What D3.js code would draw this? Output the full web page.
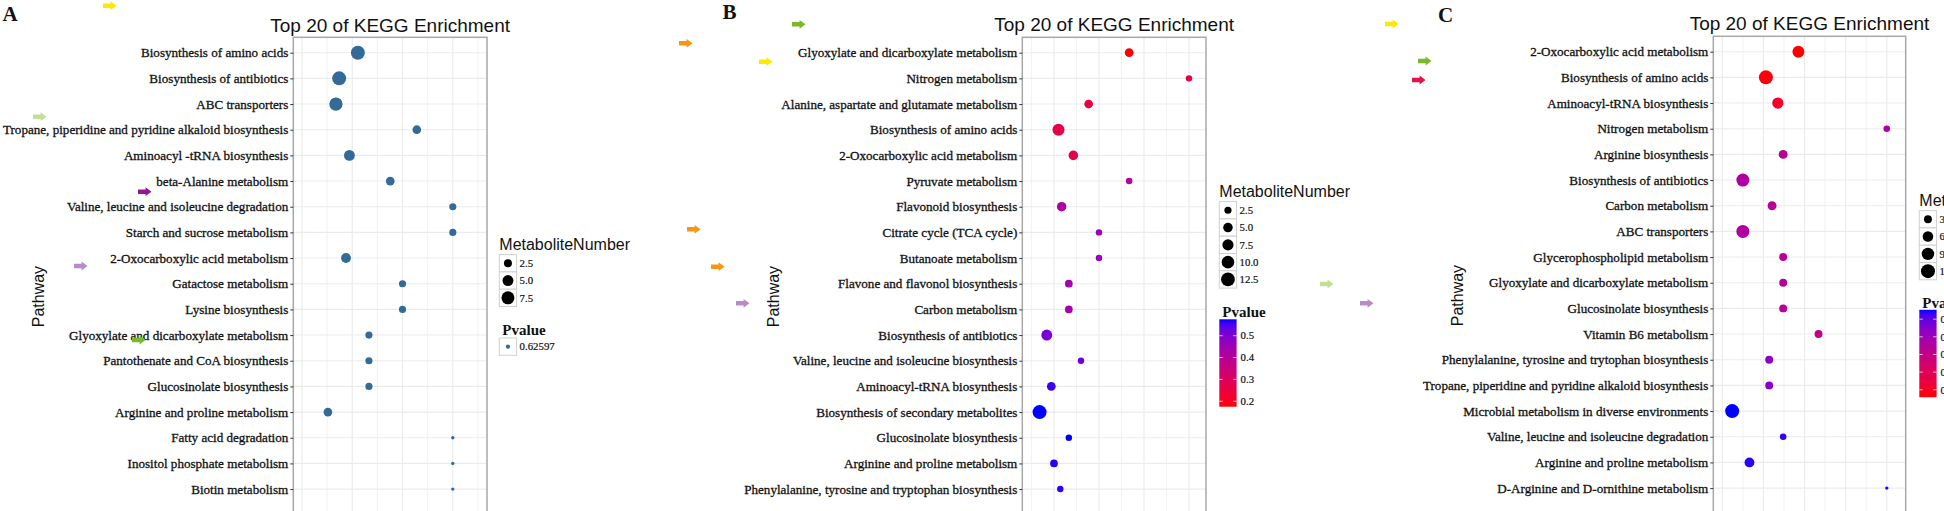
<!DOCTYPE html>
<html><head><meta charset="utf-8">
<script src="https://cdn.jsdelivr.net/npm/d3@7"></script>
<style>body{margin:0;background:#fff;} svg{display:block;}</style>
</head><body>
<svg id="c" width="1944" height="511"></svg>
<script>
// ---------------- DATA ----------------
// Panel A
const pathwaysA = ["Biosynthesis of amino acids","Biosynthesis of antibiotics","ABC transporters",
 "Tropane, piperidine and pyridine alkaloid biosynthesis","Aminoacyl -tRNA biosynthesis","beta-Alanine metabolism",
 "Valine, leucine and isoleucine degradation","Starch and sucrose metabolism","2-Oxocarboxylic acid metabolism",
 "Gatactose metabolism","Lysine biosynthesis","Glyoxylate and dicarboxylate metabolism",
 "Pantothenate and CoA biosynthesis","Glucosinolate biosynthesis","Arginine and proline metabolism",
 "Fatty acid degradation","Inositol phosphate metabolism","Biotin metabolism"];
const richA  = [0.528,0.435,0.419,0.821,0.486,0.689,1.0,1.0,0.469,0.75,0.75,0.583,0.583,0.583,0.379,1.0,1.0,1.0];
const countA = [9,9,8,3,5,3,2,2,4,2,2,2,2,2,3,1,1,1];
const pvalA  = [0.62597,0.62597,0.62597,0.62597,0.62597,0.62597,0.62597,0.62597,0.62597,0.62597,0.62597,0.62597,0.62597,0.62597,0.62597,0.62597,0.62597,0.62597];
const sizeLimitsA = [1, 9];
const sizeBreaksA = [2.5, 5.0, 7.5];
const sizeBreakLabelsA = ["2.5","5.0","7.5"];
const pvalLabelA = "0.62597";

// Panel B
const pathwaysB = ["Glyoxylate and dicarboxylate metabolism","Nitrogen metabolism","Alanine, aspartate and glutamate metabolism",
 "Biosynthesis of amino acids","2-Oxocarboxylic acid metabolism","Pyruvate metabolism","Flavonoid biosynthesis",
 "Citrate cycle (TCA cycle)","Butanoate metabolism","Flavone and flavonol biosynthesis","Carbon metabolism",
 "Biosynthesis of antibiotics","Valine, leucine and isoleucine biosynthesis","Aminoacyl-tRNA biosynthesis",
 "Biosynthesis of secondary metabolites","Glucosinolate biosynthesis","Arginine and proline metabolism",
 "Phenylalanine, tyrosine and tryptophan biosynthesis"];
const richB  = [0.267,0.4,0.177,0.110,0.143,0.267,0.117,0.2,0.2,0.133,0.133,0.084,0.16,0.094,0.068,0.133,0.1,0.114];
const countB = [4,2,4,9,5,2,5,2,2,3,3,7,2,4,13,2,3,2];
const pvalB  = [0.175,0.25,0.25,0.265,0.275,0.40,0.42,0.455,0.455,0.44,0.44,0.51,0.52,0.56,0.575,0.575,0.57,0.565];
const sizeLimitsB = [1, 13];
const sizeBreaksB = [2.5, 5.0, 7.5, 10.0, 12.5];
const sizeBreakLabelsB = ["2.5","5.0","7.5","10.0","12.5"];
const pTicksB = [0.2, 0.3, 0.4, 0.5];
const pTickLabelsB = ["0.2","0.3","0.4","0.5"];

// Panel C
const pathwaysC = ["2-Oxocarboxylic acid metabolism","Biosynthesis of amino acids","Aminoacyl-tRNA biosynthesis",
 "Nitrogen metabolism","Arginine biosynthesis","Biosynthesis of antibiotics","Carbon metabolism","ABC transporters",
 "Glycerophospholipid metabolism","Glyoxylate and dicarboxylate metabolism","Glucosinolate biosynthesis",
 "Vitamin B6 metabolism","Phenylalanine, tyrosine and trytophan biosynthesis",
 "Tropane, piperidine and pyridine alkaloid biosynthesis","Microbial metabolism in diverse environments",
 "Valine, leucine and isoleucine degradation","Arginine and proline metabolism","D-Arginine and D-ornithine metabolism"];
const richC  = [0.285,0.206,0.235,0.5,0.248,0.150,0.221,0.150,0.248,0.248,0.248,0.334,0.214,0.214,0.124,0.248,0.166,0.5];
const countC = [8,12,7,2,4,10,4,10,3,3,3,3,3,3,12,2,5,1];
const pvalC  = [0.058,0.068,0.108,0.355,0.34,0.355,0.34,0.355,0.34,0.34,0.34,0.305,0.444,0.444,0.553,0.538,0.543,0.543];
const sizeLimitsC = [1, 12];
const sizeBreaksC = [3, 6, 9, 12];
const sizeBreakLabelsC = ["3","6","9","12"];
const pTicksC = [0.1, 0.2, 0.3, 0.4, 0.5];
const pTickLabelsC = ["0.1","0.2","0.3","0.4","0.5"];

const titleText = "Top 20 of KEGG Enrichment";
const yTitle = "Pathway";
const sizeTitle = "MetaboliteNumber";
const colorTitle = "Pvalue";

// ---------------- LAYOUT ----------------
const svg = d3.select("#c");
svg.append("rect").attr("width",1944).attr("height",511).attr("fill","#fff");

const SERIF = "'Liberation Serif','Times New Roman',serif";
const SANS = "'Liberation Sans',Arial,sans-serif";
const ROW = 25.67;

function drawPanel(cfg) {
  const g = svg.append("g");
  const x = d3.scaleLinear().domain(cfg.xDomain).range([cfg.left, cfg.right]);
  const y = d3.scalePoint().domain(cfg.pathways)
      .range([cfg.top + 15.4, cfg.top + 15.4 + (cfg.pathways.length - 1) * ROW]);
  const bottom = cfg.top + 20.2 * ROW;
  const size = d3.scaleSqrt().domain([0, cfg.sizeLimits[1] - cfg.sizeLimits[0]]).range([1.7, 7.0]);
  const rOf = v => size(v - cfg.sizeLimits[0]);

  // grid
  g.selectAll("line.mi").data(cfg.minor).join("line")
    .attr("x1", d => x(d)).attr("x2", d => x(d)).attr("y1", cfg.top).attr("y2", bottom)
    .attr("stroke", "#f1f1f1").attr("stroke-width", 0.9);
  g.selectAll("line.ma").data(cfg.major).join("line")
    .attr("x1", d => x(d)).attr("x2", d => x(d)).attr("y1", cfg.top).attr("y2", bottom)
    .attr("stroke", "#ebebeb").attr("stroke-width", 1.1);
  g.selectAll("line.hy").data(cfg.pathways).join("line")
    .attr("x1", cfg.left).attr("x2", cfg.right).attr("y1", d => y(d)).attr("y2", d => y(d))
    .attr("stroke", "#ebebeb").attr("stroke-width", 1.1);

  // points
  g.selectAll("circle.pt").data(cfg.pathways).join("circle")
    .attr("cx", (d, i) => x(cfg.rich[i])).attr("cy", d => y(d))
    .attr("r", (d, i) => rOf(cfg.count[i]))
    .attr("fill", (d, i) => cfg.color(cfg.pval[i]));

  // border
  g.append("rect").attr("x", cfg.left).attr("y", cfg.top)
    .attr("width", cfg.right - cfg.left).attr("height", bottom - cfg.top)
    .attr("fill", "none").attr("stroke", "#a8a8a8").attr("stroke-width", 1.5);

  // y axis
  const ax = g.append("g").attr("transform", `translate(${cfg.left},0)`)
    .call(d3.axisLeft(y).tickSize(3).tickSizeOuter(0).tickPadding(2));
  ax.select(".domain").remove();
  ax.selectAll(".tick line").attr("stroke", "#333").attr("stroke-width", 1);
  ax.selectAll(".tick text").attr("font-family", SERIF).attr("font-size", 13.1).attr("fill", "#111")
    .attr("stroke", "#111").attr("stroke-width", 0.3);

  // title
  g.append("text").attr("x", (cfg.left + cfg.right) / 2).attr("y", cfg.titleY)
    .attr("text-anchor", "middle").attr("font-family", SANS).attr("font-size", 19).attr("fill", "#111")
    .text(titleText);
  // y title
  g.append("text").attr("transform", `translate(${cfg.yTitleX},${(cfg.top + bottom) / 2}) rotate(-90)`)
    .attr("text-anchor", "middle").attr("font-family", SANS).attr("font-size", 16).attr("fill", "#111")
    .text(yTitle);
  // panel letter
  g.append("text").attr("x", cfg.letterX).attr("y", cfg.letterY)
    .attr("font-family", SERIF).attr("font-weight", "bold").attr("font-size", 21).attr("fill", "#111")
    .text(cfg.letter);

  // size legend
  const L = cfg.legendX, KEY = 17.3;
  g.append("text").attr("x", L).attr("y", cfg.sizeTitleY).attr("font-family", SANS).attr("font-size", 16)
    .attr("fill", "#111").text(sizeTitle);
  const k0 = cfg.sizeTitleY + 4.6;
  const keys = g.selectAll("g.key").data(cfg.sizeBreaks).join("g")
    .attr("transform", (d, i) => `translate(${L},${k0 + i * KEY})`);
  keys.append("rect").attr("width", KEY).attr("height", KEY).attr("fill", "#fff")
    .attr("stroke", "#d0d0d0").attr("stroke-width", 1);
  keys.append("circle").attr("cx", KEY / 2).attr("cy", KEY / 2).attr("r", d => rOf(d)).attr("fill", "#000");
  keys.append("text").attr("x", KEY + 3).attr("y", KEY / 2).attr("dy", "0.35em")
    .attr("font-family", SERIF).attr("font-size", 10.8).attr("fill", "#111")
    .attr("stroke", "#111").attr("stroke-width", 0.2)
    .text((d, i) => cfg.sizeBreakLabels[i]);

  const cTitleY = k0 + cfg.sizeBreaks.length * KEY + cfg.colorGap;
  g.append("text").attr("x", L + 3).attr("y", cTitleY).attr("font-family", SERIF).attr("font-weight", "bold")
    .attr("font-size", 15).attr("fill", "#111").text(colorTitle);
  if (cfg.singleColor) {
    const kg = g.append("g").attr("transform", `translate(${L},${cTitleY + 3})`);
    kg.append("rect").attr("width", KEY).attr("height", KEY).attr("fill", "#fff")
      .attr("stroke", "#d0d0d0").attr("stroke-width", 1);
    kg.append("circle").attr("cx", KEY / 2).attr("cy", KEY / 2).attr("r", 2.1).attr("fill", cfg.color(cfg.pval[0]));
    kg.append("text").attr("x", KEY + 3).attr("y", KEY / 2).attr("dy", "0.35em")
      .attr("font-family", SERIF).attr("font-size", 10.8).attr("fill", "#111")
      .attr("stroke", "#111").attr("stroke-width", 0.2).text(cfg.pLabel);
  } else {
    const top = cTitleY + 2, h = 87.4, w = KEY;
    const dom = cfg.color.domain();
    const yb = d3.scaleLinear().domain(dom).range([top + h, top]);
    const gid = "grad" + cfg.letter;
    const grad = svg.append("defs").append("linearGradient").attr("id", gid)
      .attr("x1", 0).attr("x2", 0).attr("y1", 1).attr("y2", 0);
    d3.range(0, 1.0001, 0.05).forEach(t => {
      grad.append("stop").attr("offset", t).attr("stop-color", cfg.color(dom[0] + t * (dom[1] - dom[0])));
    });
    g.append("rect").attr("x", L).attr("y", top).attr("width", w).attr("height", h).attr("fill", `url(#${gid})`);
    const tk = g.selectAll("g.ptk").data(cfg.pTicks).join("g").attr("transform", d => `translate(${L},${yb(d)})`);
    tk.append("line").attr("x1", 0).attr("x2", 3.5).attr("stroke", "#fff").attr("stroke-opacity", 0.7);
    tk.append("line").attr("x1", w - 3.5).attr("x2", w).attr("stroke", "#fff").attr("stroke-opacity", 0.7);
    tk.append("text").attr("x", w + 4).attr("dy", "0.35em").attr("font-family", SERIF).attr("font-size", 10.8)
      .attr("fill", "#111").attr("stroke", "#111").attr("stroke-width", 0.2)
      .text((d, i) => cfg.pTickLabels[i]);
  }
}

const redBlue = dom => d3.scaleLinear().domain(dom).range(["#ff0000", "#0000ff"]).interpolate(d3.interpolateLab);

drawPanel({
  letter: "A", letterX: 2.5, letterY: 20.7,
  pathways: pathwaysA, rich: richA, count: countA, pval: pvalA,
  xDomain: [0.207, 1.170], major: [0.25, 0.5, 0.75, 1.0], minor: [0.375, 0.625, 0.875, 1.125],
  left: 293.3, right: 487, top: 37.3, titleY: 31.5, yTitleX: 44,
  sizeLimits: sizeLimitsA, sizeBreaks: sizeBreaksA, sizeBreakLabels: sizeBreakLabelsA,
  color: d3.scaleLinear().domain([pvalA[0], pvalA[0]]).range(["#132B43", "#56B1F7"]).interpolate(d3.interpolateLab),
  singleColor: true, pLabel: pvalLabelA,
  legendX: 499.3, sizeTitleY: 250, colorGap: 28.5
});

drawPanel({
  letter: "B", letterX: 722.5, letterY: 18.5,
  pathways: pathwaysB, rich: richB, count: countB, pval: pvalB,
  xDomain: [0.0296, 0.4378], major: [0.1, 0.2, 0.3, 0.4], minor: [0.05, 0.15, 0.25, 0.35],
  left: 1022.3, right: 1206, top: 37.3, titleY: 30.8, yTitleX: 779,
  sizeLimits: sizeLimitsB, sizeBreaks: sizeBreaksB, sizeBreakLabels: sizeBreakLabelsB,
  color: redBlue(d3.extent(pvalB)), pTicks: pTicksB, pTickLabels: pTickLabelsB,
  legendX: 1219.3, sizeTitleY: 197, colorGap: 29.2
});

drawPanel({
  letter: "C", letterX: 1438, letterY: 21.7,
  pathways: pathwaysC, rich: richC, count: countC, pval: pvalC,
  xDomain: [0.0781, 0.546], major: [0.1, 0.2, 0.3, 0.4, 0.5], minor: [0.15, 0.25, 0.35, 0.45],
  left: 1713.3, right: 1905.7, top: 36.3, titleY: 30.2, yTitleX: 1463,
  sizeLimits: sizeLimitsC, sizeBreaks: sizeBreaksC, sizeBreakLabels: sizeBreakLabelsC,
  color: redBlue(d3.extent(pvalC)), pTicks: pTicksC, pTickLabels: pTickLabelsC,
  legendX: 1919.3, sizeTitleY: 206, colorGap: 28
});

// ---------------- ANNOTATION ARROWS (overlaid on the figure) ----------------
const arrowMarks = [
  {x: 103, y: 5.7, c: "#ffe800"}, {x: 33, y: 116.7, c: "#c6de94"}, {x: 138, y: 191.7, c: "#951592"},
  {x: 74, y: 266, c: "#b48dc6"}, {x: 132, y: 340, c: "#7cb82a"},
  {x: 679, y: 43.3, c: "#f7960f"}, {x: 792, y: 24.3, c: "#7cb82a"}, {x: 759, y: 61.7, c: "#ffe800"},
  {x: 687, y: 229.3, c: "#f7960f"}, {x: 711, y: 266.7, c: "#f7960f"}, {x: 736, y: 303.3, c: "#b48dc6"},
  {x: 1385, y: 24, c: "#ffe800"}, {x: 1418, y: 61, c: "#7cb82a"}, {x: 1412, y: 80, c: "#e6124c"},
  {x: 1320, y: 284, c: "#c6de94"}, {x: 1360, y: 303.3, c: "#b48dc6"}
];
svg.selectAll("path.arrow").data(arrowMarks).join("path")
  .attr("transform", d => `translate(${d.x},${d.y})`)
  .attr("d", "M0,-2.3 L7.6,-2.3 L7.6,-4.4 L13.5,0 L7.6,4.4 L7.6,2.3 L0,2.3 Z")
  .attr("fill", d => d.c);
</script>
</body></html>
